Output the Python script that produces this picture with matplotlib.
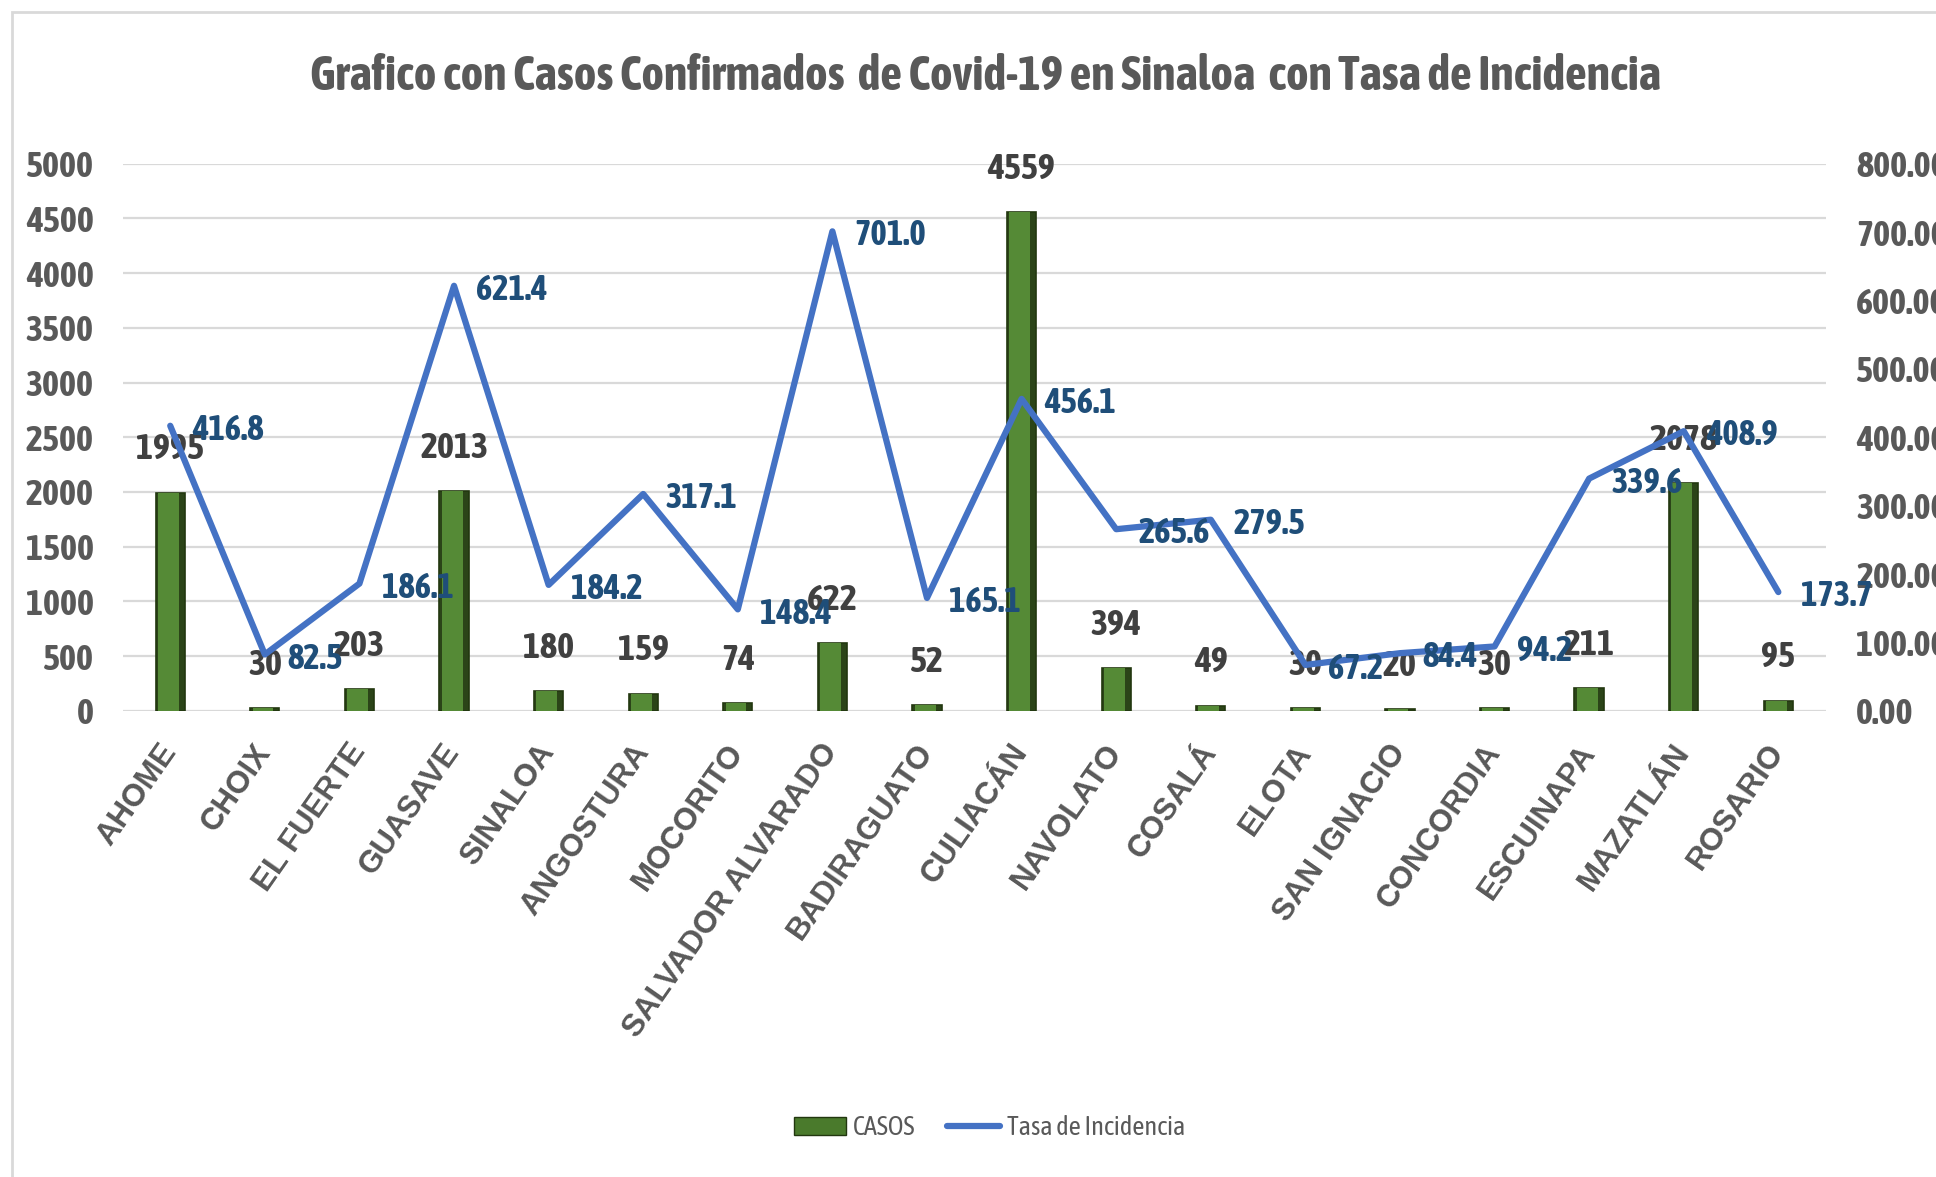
import matplotlib
matplotlib.use('Agg')
import matplotlib.pyplot as plt
import numpy as np
from matplotlib.patches import Rectangle
from matplotlib.lines import Line2D

municipios = ['AHOME', 'CHOIX', 'EL FUERTE', 'GUASAVE', 'SINALOA', 'ANGOSTURA',
              'MOCORITO', 'SALVADOR ALVARADO', 'BADIRAGUATO', 'CULIACÁN', 'NAVOLATO',
              'COSALÁ', 'ELOTA', 'SAN IGNACIO', 'CONCORDIA', 'ESCUINAPA', 'MAZATLÁN', 'ROSARIO']
casos = [1995, 30, 203, 2013, 180, 159, 74, 622, 52, 4559, 394, 49, 30, 20, 30, 211, 2078, 95]
tasa = [416.8, 82.5, 186.1, 621.4, 184.2, 317.1, 148.4, 701.0, 165.1, 456.1, 265.6, 279.5,
        67.2, 84.4, 94.2, 339.6, 408.9, 173.7]

# condensed font like the original, falls back to Liberation if missing
plt.rcParams['font.family'] = ['Asap Condensed', 'Liberation Sans', 'DejaVu Sans']
gray = '#595959'

fig = plt.figure(figsize=(19.36, 11.77), dpi=100)
ax = fig.add_axes([0.0635, 0.396, 0.8795, 0.465])
x = np.arange(len(municipios))

# bars: dark outer bar plus a lighter inner one for the bevel look
ax.bar(x, casos, width=0.31, color='#2B4418', edgecolor='#22370F', linewidth=1.2, zorder=2)
ax.bar(x - 0.02, casos, width=0.22, color='#558A36', linewidth=0, zorder=2)
ax.set_ylim(0, 5000)
ax.set_xlim(-0.5, len(municipios) - 0.5)
ax.set_yticks(np.arange(0, 5001, 500))
ax.yaxis.grid(True, color='#D9D9D9', linewidth=1.6, zorder=0)
ax.set_axisbelow(True)
for s in ax.spines.values():
    s.set_visible(False)
ax.tick_params(axis='y', length=0, pad=21, labelsize=26, labelcolor=gray)
ax.tick_params(axis='x', length=0, pad=26)
for lab in ax.get_yticklabels():
    lab.set_fontweight('bold')
ax.set_xticks(x)
ax.set_xticklabels(municipios, rotation=55, ha='right', va='center', rotation_mode='anchor',
                   fontsize=22.5, color=gray)
for lab in ax.get_xticklabels():
    lab.set_fontfamily(['Liberation Sans', 'DejaVu Sans'])
    lab.set_fontweight('bold')

for xi, c in zip(x, casos):
    ax.annotate(str(c), (xi, c), xytext=(0, 31), textcoords='offset points',
                ha='center', va='center', fontsize=26, fontweight='bold', color='#404040', zorder=5)

ax2 = ax.twinx()
ax2.plot(x, tasa, color='#4472C4', linewidth=4.5, solid_capstyle='round', zorder=3)
ax2.set_ylim(0, 800)
ax2.set_yticks(np.arange(0, 801, 100))
ax2.set_yticklabels(['%.2f' % v for v in np.arange(0, 801, 100)])
for s in ax2.spines.values():
    s.set_visible(False)
ax2.tick_params(axis='y', length=0, pad=22, labelsize=26, labelcolor=gray)
for lab in ax2.get_yticklabels():
    lab.set_fontweight('bold')

for xi, t in zip(x, tasa):
    ax2.annotate('%.1f' % t, (xi, t), xytext=(16, -3), textcoords='offset points',
                 ha='left', va='center', fontsize=25, fontweight='bold', color='#1F4E79', zorder=5)

fig.text(0.509, 0.935, 'Grafico con Casos Confirmados  de Covid-19 en Sinaloa  con Tasa de Incidencia',
         ha='center', va='center', fontsize=34.5, fontweight='bold', color=gray)

handles = [Rectangle((0, 0), 1, 1, facecolor='#4A7A2C', edgecolor='#22370F'),
           Line2D([], [], color='#4472C4', linewidth=4.5, solid_capstyle='round')]
fig.legend(handles, ['CASOS', 'Tasa de Incidencia'], loc='center', bbox_to_anchor=(0.511, 0.042),
           ncol=2, frameon=False, fontsize=19, labelcolor=gray, handlelength=2.0,
           handletextpad=0.25, columnspacing=1.2)

fig.patches.append(Rectangle((0.006, -0.05), 1.2, 1.04, transform=fig.transFigure,
                             fill=False, edgecolor='#D9D9D9', linewidth=2))

fig.savefig('out.png', dpi=100)
